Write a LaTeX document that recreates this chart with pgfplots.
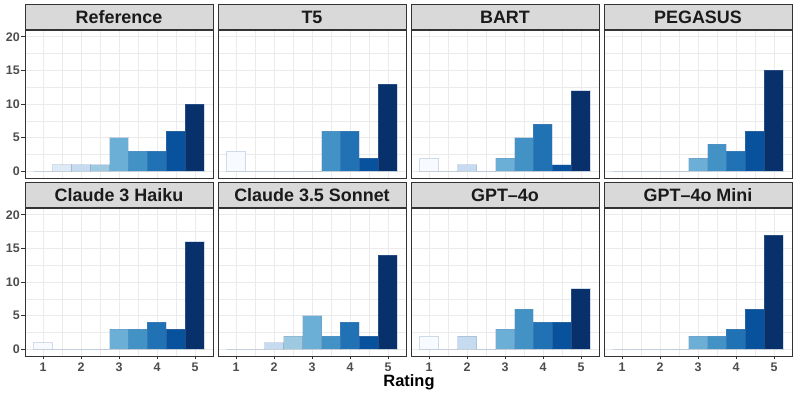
\documentclass[border=0pt]{standalone}
\usepackage{pgfplots}
\pgfplotsset{compat=1.18}
\usepackage{fontspec}
\setmainfont{Liberation Sans}
\definecolor{b1}{HTML}{F7FBFF}
\definecolor{b2}{HTML}{DEEBF7}
\definecolor{b3}{HTML}{C6DBEF}
\definecolor{b4}{HTML}{9ECAE1}
\definecolor{b5}{HTML}{6BAED6}
\definecolor{b6}{HTML}{4292C6}
\definecolor{b7}{HTML}{2171B5}
\definecolor{b8}{HTML}{08519C}
\definecolor{b9}{HTML}{08306B}
\definecolor{gridc}{HTML}{EBEBEB}
\definecolor{framec}{HTML}{333333}
\definecolor{stripc}{HTML}{D9D9D9}
\definecolor{stript}{HTML}{1A1A1A}
\definecolor{ticktext}{HTML}{4D4D4D}
\definecolor{edgec}{HTML}{6F8FB5}

\newcommand{\bars}[9]{%
\addplot[fill=b1] coordinates {(1,#1)};
\addplot[fill=b2] coordinates {(1.5,#2)};
\addplot[fill=b3] coordinates {(2,#3)};
\addplot[fill=b4] coordinates {(2.5,#4)};
\addplot[fill=b5] coordinates {(3,#5)};
\addplot[fill=b6] coordinates {(3.5,#6)};
\addplot[fill=b7] coordinates {(4,#7)};
\addplot[fill=b8] coordinates {(4.5,#8)};
\addplot[fill=b9] coordinates {(5,#9)};
}

\pgfplotsset{panel/.style={
  scale only axis, width=188bp, height=148bp,
  xmin=0.525, xmax=5.475, ymin=-1, ymax=21,
  xtick={1,2,3,4,5}, ytick={0,5,10,15,20},
  minor xtick={1.5,2.5,3.5,4.5}, minor ytick={2.5,7.5,12.5,17.5},
  xmajorgrids, ymajorgrids, xminorgrids, yminorgrids,
  major grid style={gridc, line width=0.9bp},
  minor grid style={gridc, line width=0.45bp},
  minor tick length=0pt, major tick length=3.5bp, tick align=outside, tick pos=left,
  major tick style={framec, line width=0.8bp},
  axis line style={framec, line width=0.9bp},
  ybar, bar width=0.5, bar shift=0pt,
  every axis plot/.append style={draw=edgec, draw opacity=0.3, line width=0.6bp},
  every axis title shift=0pt,
  title style={at={(0.5,1)}, anchor=south, yshift=0pt, draw=framec, line width=0.9bp,
     fill=stripc, minimum width=188bp, minimum height=25bp, inner sep=0pt,
     font=\bfseries\fontsize{18}{18}\selectfont, text=stript},
  tick label style={font=\bfseries\fontsize{12.5}{12.5}\selectfont, text=ticktext},
  xticklabel style={inner sep=0pt, yshift=-3bp},
  yticklabel style={inner sep=0pt, xshift=-1.5bp},
  /pgf/number format/assume math mode=true,
}}

\begin{document}
\begin{tikzpicture}
\path[use as bounding box] (0,0) rectangle (797bp,399bp);
% top row
\begin{axis}[panel, at={(25bp,221bp)}, anchor=south west, title={Reference}, xmajorticks=false]
\bars{0}{1}{1}{1}{5}{3}{3}{6}{10}
\end{axis}
\begin{axis}[panel, at={(218bp,221bp)}, anchor=south west, title={T5}, xmajorticks=false, ymajorticks=false]
\bars{3}{0}{0}{0}{0}{6}{6}{2}{13}
\end{axis}
\begin{axis}[panel, at={(411bp,221bp)}, anchor=south west, title={BART}, xmajorticks=false, ymajorticks=false]
\bars{2}{0}{1}{0}{2}{5}{7}{1}{12}
\end{axis}
\begin{axis}[panel, at={(604bp,221bp)}, anchor=south west, title={PEGASUS}, xmajorticks=false, ymajorticks=false]
\bars{0}{0}{0}{0}{2}{4}{3}{6}{15}
\end{axis}
% bottom row
\begin{axis}[panel, at={(25bp,43bp)}, anchor=south west, title={Claude 3 Haiku}]
\bars{1}{0}{0}{0}{3}{3}{4}{3}{16}
\end{axis}
\begin{axis}[panel, at={(218bp,43bp)}, anchor=south west, title={Claude 3.5 Sonnet}, ymajorticks=false]
\bars{0}{0}{1}{2}{5}{2}{4}{2}{14}
\end{axis}
\begin{axis}[panel, at={(411bp,43bp)}, anchor=south west, title={GPT–4o}, ymajorticks=false]
\bars{2}{0}{2}{0}{3}{6}{4}{4}{9}
\end{axis}
\begin{axis}[panel, at={(604bp,43bp)}, anchor=south west, title={GPT–4o Mini}, ymajorticks=false]
\bars{0}{0}{0}{0}{2}{2}{3}{6}{17}
\end{axis}
\node[font=\bfseries\fontsize{16.5}{16.5}\selectfont, text=black] at (409bp,17bp) {Rating};
\end{tikzpicture}
\end{document}
